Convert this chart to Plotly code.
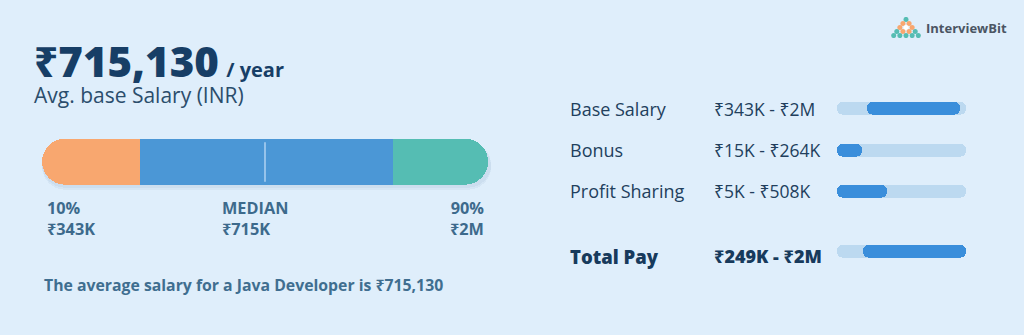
import plotly.graph_objects as go

# ---------------- data ----------------
headline_value = "₹715,130"
headline_unit = "/ year"
headline_caption = "Avg. base Salary (INR)"

# main percentile bar: share of the bar taken by each segment (%)
segment_names = ["10th pct", "middle", "90th pct"]
segment_shares = [22.0, 56.7, 21.3]
segment_colors = ["#f8a76f", "#4b97d6", "#55bdb3"]
median_mark = 50.0

percentile_labels = ["10%", "MEDIAN", "90%"]
percentile_values = ["₹343K", "₹715K", "₹2M"]

footer_text = "The average salary for a Java Developer is ₹715,130"

# right-hand pay ranges
pay_items = ["Base Salary", "Bonus", "Profit Sharing", "Total Pay"]
pay_ranges = ["₹343K - ₹2M", "₹15K - ₹264K", "₹5K - ₹508K", "₹249K - ₹2M"]
fill_start = [23.0, 0.0, 0.0, 20.0]   # % of track
fill_end = [95.5, 19.0, 39.0, 100.0]  # % of track

# ---------------- style ----------------
BG = "#dfeefb"
FONT = "'Open Sans', 'Noto Sans', sans-serif"
W, H = 1024, 335
TRACK = "#bcd9f0"
FILL = "#3a8edb"

fig = go.Figure()

# ---- main bar (axes x / y) ----
total = sum(segment_shares)
bounds = [0.0]
for s in segment_shares:
    bounds.append(bounds[-1] + s / total * 100)

# soft shadow under bar
for dy, op in [(-0.11, 0.06), (-0.06, 0.06)]:
    fig.add_trace(go.Bar(x=[100.6], base=[0], y=[dy], width=1.0, orientation="h",
                         marker=dict(color=f"rgba(60,100,150,{op})", cornerradius="50%",
                                     line=dict(width=0)),
                         xaxis="x", yaxis="y", hoverinfo="skip", showlegend=False))

# orange and teal are rounded capsules; the square blue block covers their inner ends
fig.add_trace(go.Bar(x=[bounds[1] + 12], base=[bounds[0]], y=[0], width=1.0, orientation="h",
                     marker=dict(color=segment_colors[0], cornerradius="50%", line=dict(width=0)),
                     name=segment_names[0], xaxis="x", yaxis="y", showlegend=False))
fig.add_trace(go.Bar(x=[bounds[3] - bounds[2] + 12], base=[bounds[2] - 12], y=[0], width=1.0, orientation="h",
                     marker=dict(color=segment_colors[2], cornerradius="50%", line=dict(width=0)),
                     name=segment_names[2], xaxis="x", yaxis="y", showlegend=False))
fig.add_trace(go.Bar(x=[bounds[2] - bounds[1]], base=[bounds[1]], y=[0], width=1.0, orientation="h",
                     marker=dict(color=segment_colors[1], line=dict(width=0)),
                     name=segment_names[1], xaxis="x", yaxis="y", showlegend=False))
fig.add_trace(go.Scatter(x=[median_mark, median_mark], y=[-0.43, 0.43], mode="lines",
                         line=dict(color="#a9cff0", width=1.6), xaxis="x", yaxis="y",
                         hoverinfo="skip", showlegend=False))

# ---- right-hand range bars (axes x2 / y2) ----
row_pos = [0, 1, 2, 3.45]
bar_thick = 0.31
for i in range(len(pay_items)):
    y = row_pos[i]
    fig.add_trace(go.Bar(x=[100], base=[0], y=[y], width=bar_thick, orientation="h",
                         marker=dict(color=TRACK, cornerradius="50%", line=dict(width=0)),
                         xaxis="x2", yaxis="y2", hoverinfo="skip", showlegend=False))
    fig.add_trace(go.Bar(x=[fill_end[i] - fill_start[i]], base=[fill_start[i]], y=[y], width=bar_thick,
                         orientation="h",
                         marker=dict(color=FILL, cornerradius="50%", line=dict(width=0)),
                         name=pay_items[i], xaxis="x2", yaxis="y2", showlegend=False))

# ---- logo dots (axes x3 / y3) ----
logo_rows = 5
lx, ly, lc = [], [], []
row_colors = ["#55bdb3", "#f8a76f", "#f8a76f", "#55bdb3", "#55bdb3"]
for r in range(logo_rows):
    for k in range(r + 1):
        lx.append(k - r / 2)
        ly.append(-r)
        c = row_colors[r]
        if r == 2 and k == 1:
            c = "#ffffff"
        if r == 3 and k in (1, 2):
            c = "#f8a76f"
        lc.append(c)
fig.add_trace(go.Scatter(x=lx, y=ly, mode="markers",
                         marker=dict(size=5.0, color=lc, line=dict(width=0)),
                         xaxis="x3", yaxis="y3", hoverinfo="skip", showlegend=False))

# ---- axes ----
def px_dom_x(a, b):
    return [a / W, b / W]

def px_dom_y(top, bottom):
    return [1 - bottom / H, 1 - top / H]

ppu = (488 - 42) / 100
rpu = (251.5 - 108.5) / 3.45
fig.update_layout(
    xaxis=dict(domain=px_dom_x(42 - 2 * ppu, 488 + 3 * ppu), range=[-2, 103], visible=False, fixedrange=True),
    yaxis=dict(domain=px_dom_y(139 - 0.05 * 46, 185 + 0.25 * 46), range=[-0.75, 0.55], visible=False, fixedrange=True),
    xaxis2=dict(domain=px_dom_x(837, 966), range=[0, 100], visible=False, fixedrange=True, anchor="y2"),
    yaxis2=dict(domain=px_dom_y(108.5 - 0.5 * rpu, 251.5 + 0.5 * rpu), range=[3.95, -0.5],
                visible=False, fixedrange=True, anchor="x2"),
    xaxis3=dict(domain=px_dom_x(890, 922), range=[-2.6, 2.6], visible=False, fixedrange=True, anchor="y3"),
    yaxis3=dict(domain=px_dom_y(17, 38), range=[-4.6, 0.6], visible=False, fixedrange=True, anchor="x3"),
)

# ---- text ----
def txt(x, y, s, size, color, weight=400, xanchor="left", yanchor="middle", align="left"):
    fig.add_annotation(x=x / W, y=1 - y / H, xref="paper", yref="paper", text=s,
                       showarrow=False, xanchor=xanchor, yanchor=yanchor, align=align,
                       font=dict(family=FONT, size=size, color=color, weight=weight))

# headline block: value + unit on first line, caption below (one text block)
head = (f"<span style='font-size:42px;font-weight:800;fill:#173e66'>{headline_value}</span>"
        f"<span style='font-size:28px'> </span>"
        f"<span style='font-size:20px;font-weight:700;fill:#173e66'>{headline_unit}</span>"
        f"<br><span style='font-size:21px'>{headline_caption}</span>")
txt(32, 30, head, 20, "#2b4d6c", yanchor="top")

# percentile labels: label + value as a two-line block
lab_col = "#3d6a8c"
txt(45, 218.5, f"{percentile_labels[0]}<br>{percentile_values[0]}", 16.3, lab_col, weight=700)
txt(220, 218.5, f"{percentile_labels[1]}<br>{percentile_values[1]}", 16.3, lab_col, weight=700)
txt(486, 218.5, f"{percentile_labels[2]}<br>{percentile_values[2]}", 16.3, lab_col, weight=700,
    xanchor="right", align="right")

txt(42, 285, footer_text, 15.8, "#3f6e90", weight=700)

row_px = [109, 150, 191, 256]
for i in range(len(pay_items)):
    is_total = i == len(pay_items) - 1
    col = "#173a5c" if is_total else "#223f5d"
    txt(568, row_px[i], pay_items[i], 18 if not is_total else 18.5, col, weight=800 if is_total else 400)
    txt(712, row_px[i], pay_ranges[i], 17.5 if not is_total else 18, col, weight=800 if is_total else 400)

txt(924, 28, "InterviewBit", 13, "#4b5563", weight=700)

fig.update_layout(
    width=W, height=H, margin=dict(l=0, r=0, t=0, b=0),
    paper_bgcolor=BG, plot_bgcolor="rgba(0,0,0,0)",
    barmode="overlay", bargap=0, showlegend=False,
)

fig.write_html("out.html", config={"displayModeBar": False})
